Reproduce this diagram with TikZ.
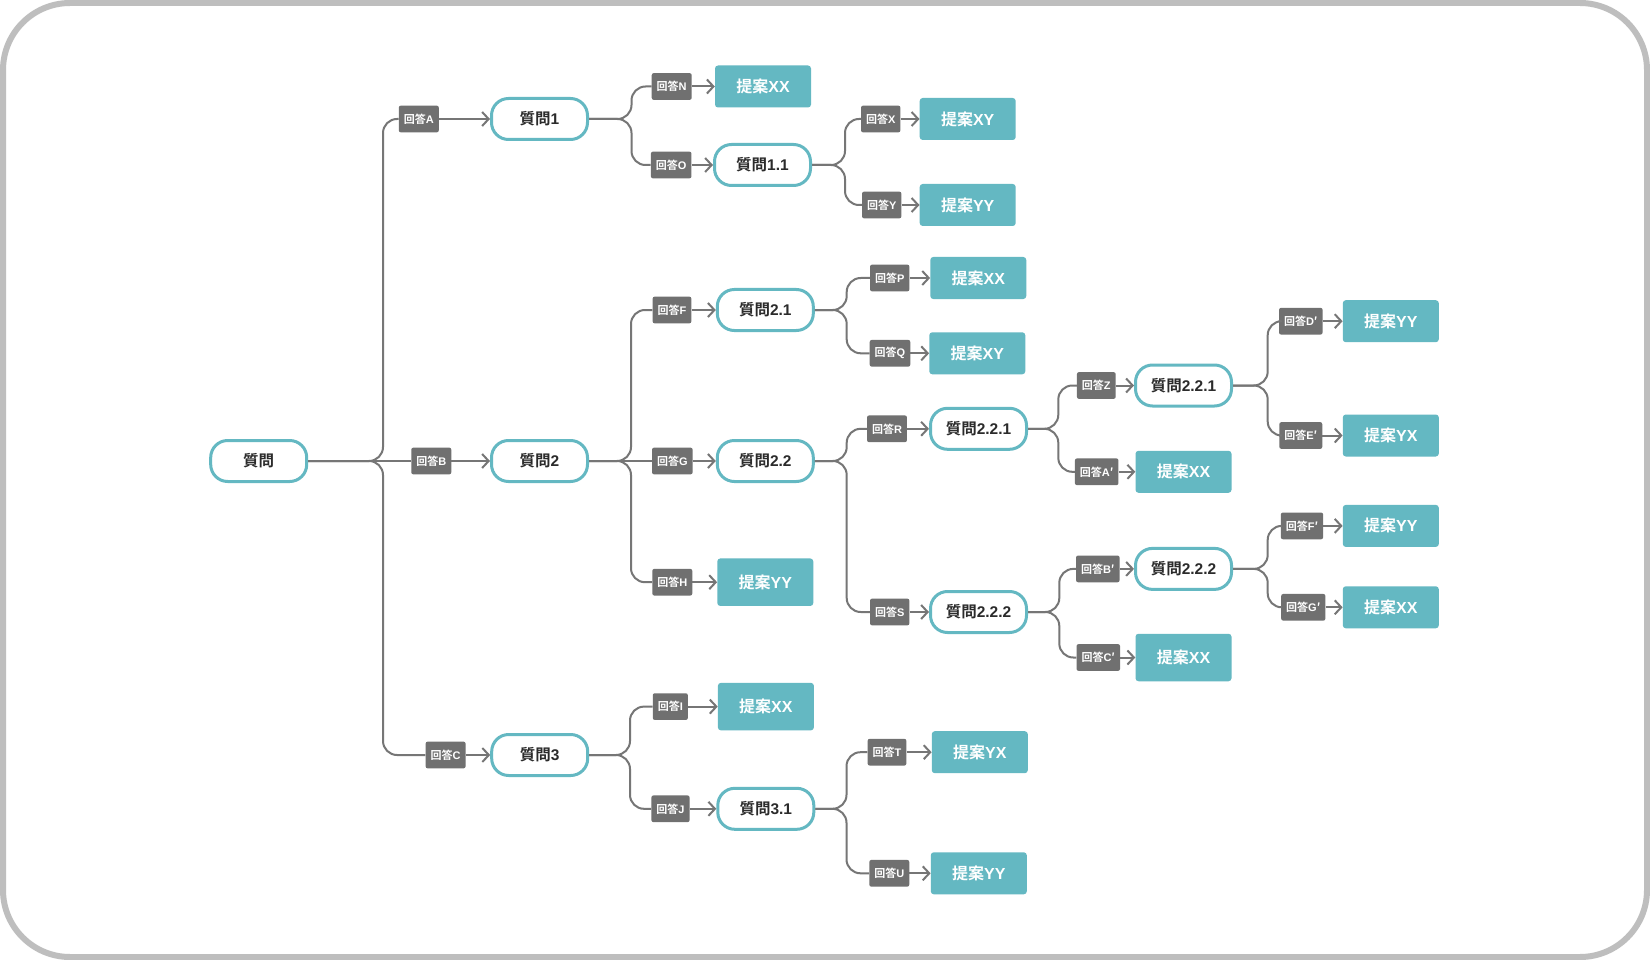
\documentclass[tikz,border=0pt]{standalone}
\usepackage{fontspec}
\setmainfont{Liberation Sans}
\newfontfamily\cjk{Noto Sans CJK JP}[BoldFont=* Bold]
\usetikzlibrary{arrows.meta}
\definecolor{teal}{HTML}{64B8C2}
\definecolor{lab}{HTML}{707070}
\definecolor{conncol}{HTML}{767676}
\definecolor{framecol}{HTML}{BEBEBE}
\definecolor{txt}{HTML}{2B2B2B}
\newcommand\qtext[1]{{\cjk 質問}#1}
\newcommand\ptext[1]{{\cjk 提案}#1}
\newcommand\atext[1]{{\cjk 回答}#1}
\newcommand\pr{{\cjk ′}}
\tikzset{
  qnode/.style={draw=teal, line width=3pt, fill=white, rounded corners=17pt,
    minimum width=96pt, minimum height=41pt, inner sep=0pt, text=txt,
    font=\bfseries\fontsize{15.5}{16}\selectfont},
  prop/.style={fill=teal, rounded corners=3pt, minimum width=96pt,
    minimum height=42pt, inner sep=0pt, text=white,
    font=\bfseries\fontsize{16}{17}\selectfont},
  tall/.style={minimum height=47.5pt},
  ans/.style={fill=lab, rounded corners=2pt, minimum height=26.7pt,
    inner xsep=5pt, inner ysep=0pt, text=white,
    font=\bfseries\fontsize{11}{12}\selectfont},
  conn/.style={draw=conncol, line width=2pt, rounded corners=14pt},
  arr/.style={-{Straight Barb[length=6.5pt,width=14pt]}},
}
\begin{document}
\begin{tikzpicture}[x=1pt,y=-1pt]
\fill[white] (0,0) rectangle (1650,960);
\path[use as bounding box] (0,0) rectangle (1650,960);
\draw[framecol, line width=6pt, rounded corners=67pt] (3,3) rectangle (1647,957);

% level 0/1
\node[qnode] (R) at (258.7,461) {\qtext{}};
\node[ans] (lA) at (418.8,119) {\atext{A}};
\node[qnode] (q1) at (539.5,119) {\qtext{1}};
\node[ans] (lB) at (431.3,461) {\atext{B}};
\node[qnode] (q2) at (539.5,461) {\qtext{2}};
\node[ans] (lC) at (445.6,755) {\atext{C}};
\node[qnode] (q3) at (539.7,755) {\qtext{3}};
\coordinate (bR) at (383,461);

% under q1
\node[ans] (lN) at (671.7,86.5) {\atext{N}};
\node[prop] (pN) at (763,86.5) {\ptext{XX}};
\node[ans] (lO) at (671.2,165) {\atext{O}};
\node[qnode] (q11) at (762.5,165) {\qtext{1.1}};
\coordinate (b1) at (631.5,119);

\node[ans] (lX) at (880.7,119) {\atext{X}};
\node[prop] (pX) at (967.7,119) {\ptext{XY}};
\node[ans] (lY) at (881.7,205) {\atext{Y}};
\node[prop] (pY) at (967.7,205) {\ptext{YY}};
\coordinate (b11) at (845,165);

% under q2
\node[ans] (lF) at (672,310) {\atext{F}};
\node[qnode] (q21) at (765.3,310) {\qtext{2.1}};
\node[ans] (lG) at (672.3,461) {\atext{G}};
\node[qnode] (q22) at (765.3,461) {\qtext{2.2}};
\node[ans] (lH) at (672.3,582.2) {\atext{H}};
\node[prop,tall] (pH) at (765.3,582.2) {\ptext{YY}};
\coordinate (b2) at (631,461);

\node[ans] (lP) at (889.7,278) {\atext{P}};
\node[prop] (pP) at (978.3,278) {\ptext{XX}};
\node[ans] (lQ) at (890,353.3) {\atext{Q}};
\node[prop] (pQ) at (977.3,353.3) {\ptext{XY}};
\coordinate (b21) at (846.7,310);

\node[ans] (lR) at (887,428.8) {\atext{R}};
\node[qnode] (q221) at (978.5,428.8) {\qtext{2.2.1}};
\node[ans] (lS) at (889.7,612) {\atext{S}};
\node[qnode] (q222) at (978.5,612) {\qtext{2.2.2}};
\coordinate (b22) at (846.7,461);

\node[ans] (lZ) at (1096.3,385.5) {\atext{Z}};
\node[qnode] (q221b) at (1183.5,385.5) {\qtext{2.2.1}};
\node[ans] (lAp) at (1096.7,471.8) {\atext{A\pr}};
\node[prop] (pAp) at (1183.5,471.8) {\ptext{XX}};
\coordinate (b221) at (1058.3,428.8);

\node[ans] (lDp) at (1300.8,321.2) {\atext{D\pr}};
\node[prop] (pDp) at (1390.8,321.2) {\ptext{YY}};
\node[ans] (lEp) at (1300.8,435.5) {\atext{E\pr}};
\node[prop] (pEp) at (1390.8,435.5) {\ptext{YX}};
\coordinate (b221b) at (1267.7,385.5);

\node[ans] (lBp) at (1097.8,568.9) {\atext{B\pr}};
\node[qnode] (q222b) at (1183.5,568.9) {\qtext{2.2.2}};
\node[ans] (lCp) at (1098.3,657.5) {\atext{C\pr}};
\node[prop,tall] (pCp) at (1183.5,657.5) {\ptext{XX}};
\coordinate (b222) at (1059.3,612);

\node[ans] (lFp) at (1302,525.9) {\atext{F\pr}};
\node[prop] (pFp) at (1390.8,525.9) {\ptext{YY}};
\node[ans] (lGp) at (1303.3,607.3) {\atext{G\pr}};
\node[prop] (pGp) at (1390.8,607.3) {\ptext{XX}};
\coordinate (b222b) at (1267.7,568.9);

% under q3
\node[ans] (lI) at (670.3,706.6) {\atext{I}};
\node[prop,tall] (pI) at (765.9,706.6) {\ptext{XX}};
\node[ans] (lJ) at (670.5,808.8) {\atext{J}};
\node[qnode] (q31) at (765.8,808.8) {\qtext{3.1}};
\coordinate (b3) at (630,755);

\node[ans] (lT) at (887,752.2) {\atext{T}};
\node[prop] (pT) at (979.8,752.2) {\ptext{YX}};
\node[ans] (lU) at (889.3,873.3) {\atext{U}};
\node[prop] (pU) at (978.8,873.3) {\ptext{YY}};
\coordinate (b31) at (846.5,808.8);

% branch connectors
\foreach \p/\b/\l in {R/bR/lA, R/bR/lC, q1/b1/lN, q1/b1/lO, q11/b11/lX, q11/b11/lY,
  q2/b2/lF, q2/b2/lH, q21/b21/lP, q21/b21/lQ, q22/b22/lR, q22/b22/lS,
  q221/b221/lZ, q221/b221/lAp, q221b/b221b/lDp, q221b/b221b/lEp,
  q222/b222/lBp, q222/b222/lCp, q222b/b222b/lFp, q222b/b222b/lGp,
  q3/b3/lI, q3/b3/lJ, q31/b31/lT, q31/b31/lU}
  \draw[conn] (\p.east) -- (\b) |- (\l.west);
\foreach \p/\l in {R/lB, q2/lG}
  \draw[conn] (\p.east) -- (\l.west);

% arrows
\foreach \l/\c in {lA/q1, lB/q2, lC/q3, lN/pN, lO/q11, lX/pX, lY/pY,
  lF/q21, lG/q22, lH/pH, lP/pP, lQ/pQ, lR/q221, lS/q222,
  lZ/q221b, lAp/pAp, lDp/pDp, lEp/pEp, lBp/q222b, lCp/pCp, lFp/pFp, lGp/pGp,
  lI/pI, lJ/q31, lT/pT, lU/pU}
  \draw[conn,arr] (\l.east) -- (\c.west);
\end{tikzpicture}
\end{document}
